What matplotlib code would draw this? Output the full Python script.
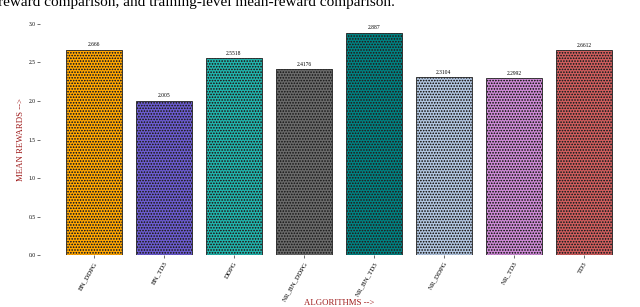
import numpy as np
import matplotlib.pyplot as plt

# data
algorithms = ["BN_DDPG", "BN_TD3", "DDPG", "NR_BN_DDPG", "NR_BN_TD3", "NR_DDPG", "NR_TD3", "TD3"]
mean_rewards = [2.666, 2.005, 2.5518, 2.4176, 2.887, 2.3104, 2.2992, 2.6612]
bar_labels = ["2.666", "2.005", "2.5518", "2.4176", "2.887", "2.3104", "2.2992", "2.6612"]
colors = ["orange", "slateblue", "lightseagreen", "dimgray", "teal",
          "lightsteelblue", "#cc88d4", "indianred"]

plt.rcParams['font.family'] = ['Liberation Serif', 'DejaVu Serif']
plt.rcParams['hatch.linewidth'] = 0.25
plt.rcParams['hatch.color'] = (0, 0, 0, 0.45)

fig = plt.figure(figsize=(6.4, 3.07), dpi=100)
ax = fig.add_axes([0.0625, 0.169, 0.934, 0.753])

x = np.arange(len(algorithms))
bars = ax.bar(x, mean_rewards, width=0.8, color=colors, edgecolor="#222222",
              linewidth=0.6, hatch="oooooo")
for b, lab in zip(bars, bar_labels):
    ax.text(b.get_x() + b.get_width() / 2, b.get_height() + 0.03, lab,
            ha="center", va="bottom", fontsize=4)

ax.set_xlim(-0.77, len(algorithms) - 1 + 0.77)
ax.set_ylim(0, 3.0)
ax.set_yticks(np.arange(0, 3.01, 0.5))
ax.set_yticklabels([f"{v:.1f}" for v in np.arange(0, 3.01, 0.5)])
ax.set_xticks(x)
ax.set_xticklabels(algorithms, rotation=60, ha="right", rotation_mode="anchor", fontsize=5)
ax.tick_params(axis="y", labelsize=4, length=2, width=0.4, pad=1)
ax.tick_params(axis="x", length=2, width=0.4, pad=2)
for s in ax.spines.values():
    s.set_visible(False)

ax.set_ylabel("MEAN REWARDS -->", color="#9e1a1a", fontsize=6.3, labelpad=3)
ax.set_xlabel("ALGORITHMS -->", color="#9e1a1a", fontsize=6.3)
ax.xaxis.set_label_coords(0.5, -0.19)

fig.text(-0.003, 0.980, "reward comparison, and training-level mean-reward comparison.",
         ha="left", va="baseline", fontsize=11)

fig.savefig("out.png", dpi=100)
